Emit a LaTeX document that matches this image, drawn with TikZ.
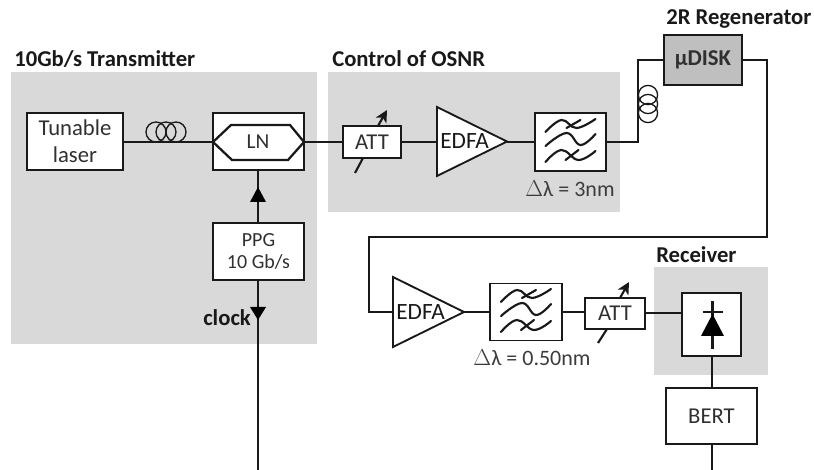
\documentclass[tikz,border=0pt]{standalone}
\usepackage{fontspec}
\setmainfont{Carlito}
\usetikzlibrary{arrows.meta}
\colorlet{panel}{black!15}
\colorlet{ink}{black!90}
\tikzset{
  x=0.75pt,y=-0.75pt,
  panelbox/.style={fill=panel,draw=none},
  unit/.style={draw=ink,fill=white,line width=1.4pt,inner sep=0pt,align=center,font=\fontsize{17}{20}\selectfont,text=ink!90},
  heading/.style={font=\fontsize{17}{20}\selectfont\bfseries,text=ink,inner sep=0pt,anchor=west},
  note/.style={font=\fontsize{16.5}{20}\selectfont,text=ink!85,inner sep=0pt},
  coil/.style={draw=ink,line width=1pt},
  tip/.style={fill=black,draw=none},
  varrow/.style={draw=ink,line width=1.6pt,-{Stealth[length=9pt,width=9pt,inset=2.5pt]}},
  vtail/.style={draw=ink,line width=1.6pt},
  thinwire/.style={draw=ink,line width=1.5pt},
  amp/.style={draw=ink,fill=white,line width=1.4pt,line join=miter},
  fcurve/.style={draw=ink,line width=1.6pt,line cap=round},
}
\newcommand{\filtercurves}[2]{%
  \begin{scope}[shift={(#1,#2)}]
    \draw[fcurve] plot[smooth,tension=0.7] coordinates {(-25,-10) (-9,-22) (6,-14) (25,-23)};
    \draw[fcurve] (-4,-14) -- (10,-22);
    \draw[fcurve] plot[smooth,tension=0.7] coordinates {(-25,4) (-4,-9) (10,3) (25,-8)};
    \draw[fcurve] plot[smooth,tension=0.7] coordinates {(-25,20) (-9,8) (8,18) (25,9)};
    \draw[fcurve] (-5,18) -- (8,8);
  \end{scope}}
\begin{document}
\begin{tikzpicture}
\useasboundingbox (0,0) rectangle (814,470);
\fill[white] (0,0) rectangle (814,470);
% panels
\path[panelbox] (11,72) rectangle (317,344);
\path[panelbox] (328,72) rectangle (620,212);
\path[panelbox] (654,267) rectangle (768,375);
% headings
\node[heading] (hTx) at (14,59) {10Gb/s Transmitter};
\node[heading] (hOsnr) at (332,59) {Control of OSNR};
\node[heading] (hReg) at (666,19) {2R Regenerator};
\node[heading] (hRx) at (656,255) {Receiver};
% boxes
\node[unit,minimum width=72pt,minimum height=42.75pt] (laser) at (75,141.5) {Tunable\\laser};
\node[unit,minimum width=68.25pt,minimum height=42.75pt] (lnbox) at (258.5,141.5) {};
\node[unit,minimum width=68.25pt,minimum height=42.75pt,font=\fontsize{15}{17}\selectfont] (ppg) at (258.5,251.5) {PPG\\10 Gb/s};
\node[unit,minimum width=43.5pt,minimum height=24pt] (att1) at (372,142) {ATT};
\node[unit,minimum width=53.25pt,minimum height=43.5pt] (filt1) at (570.5,142) {};
\node[unit,fill=black!25,line width=2.2pt,minimum width=58.5pt,minimum height=37.5pt,font=\fontsize{17}{20}\selectfont\bfseries] (disk) at (703,60) {µDISK};
\node[unit,minimum width=54pt,minimum height=42.75pt] (filt2) at (526,312) {};
\node[unit,minimum width=45pt,minimum height=23.25pt] (att2) at (615,313.5) {ATT};
\node[unit,minimum width=44.25pt,minimum height=47.25pt] (det) at (711.5,324.5) {};
\node[unit,minimum width=68.25pt,minimum height=42pt] (bert) at (711.5,416) {BERT};
% amplifiers
\draw[amp] (437,107) -- (437,176) -- (507,141.5) -- cycle;
\coordinate (a1in) at (437,142); \coordinate (a1out) at (507,142);
\node[note,font=\fontsize{17.5}{20}\selectfont,text=ink,anchor=west] (e1) at (440,141) {EDFA};
\draw[amp] (393,277) -- (393,347) -- (464,312) -- cycle;
\coordinate (a2in) at (393,312); \coordinate (a2out) at (464,312);
\node[note,font=\fontsize{17.5}{20}\selectfont,text=ink,anchor=west] (e2) at (396,312) {EDFA};
% LN hexagon
\draw[draw=ink,fill=white,line width=1.7pt] (213,142) -- (231,125) -- (290,125) -- (304,142) -- (288,160) -- (232,160) -- cycle;
\node[unit,draw=none,fill=none,font=\fontsize{16}{20}\selectfont] (ln) at (258,142) {LN};
% connectors
\draw[thinwire] (laser.east |- 0,142) -- (213,142);
\draw[thinwire] (304,142) -- (att1.west);
\draw[thinwire] (att1.east) -- (a1in);
\draw[thinwire] (a1out) -- (filt1.west);
\draw[thinwire] (filt1.east) -- (638,142) -- (638,60) -- (disk.west);
\draw[thinwire] (disk.east) -- (767,60) -- (767,237) -- (369,237) -- (369,312) -- (a2in);
\draw[thinwire] (a2out) -- (filt2.west);
\draw[thinwire] (filt2.east) -- (att2.west |- filt2.east);
\draw[thinwire] (att2.east) -- (det.west |- att2.east);
\draw[thinwire] (det.south) -- (bert.north);
\coordinate (bertend) at (711.5,470);
\draw[thinwire] (bert.south) -- (bertend);
\draw[thinwire] (258,170) -- (258,223);
\coordinate (clkend) at (258,470);
\draw[thinwire] (258,280) -- (clkend);
% triangles
\fill[tip] (258,187) -- (266,202) -- (250,202) -- cycle;
\fill[tip] (250,307) -- (266,307) -- (258,320) -- cycle;
\node[heading] (clk) at (203,318) {clock};
% coils
\foreach \cx in {156,166,176} \draw[coil] (\cx,132) circle (7.5pt);
\foreach \cy in {95,104,113} \draw[coil] (648,\cy) circle (7.2pt);
% attenuator arrows
\draw[vtail] (355,173) -- (363,158);
\draw[varrow] (378,126) -- (387,110);
\draw[vtail] (598,343) -- (607,329);
\draw[varrow] (620,298) -- (629,282);
% filters
\filtercurves{570.5}{142}
\filtercurves{526}{312}
\node[note] (d1) at (570,189) {$\Delta$λ = 3nm};
\node[note] (d2) at (532,358) {$\Delta$λ = 0.50nm};
% photodiode
\draw[draw=ink,line width=1.6pt] (712.5,301) -- (712.5,349);
\draw[draw=ink,line width=1.6pt] (703,312) -- (723,312);
\fill[black] (712.5,314) -- (724,336) -- (701,336) -- cycle;
\end{tikzpicture}
\end{document}
